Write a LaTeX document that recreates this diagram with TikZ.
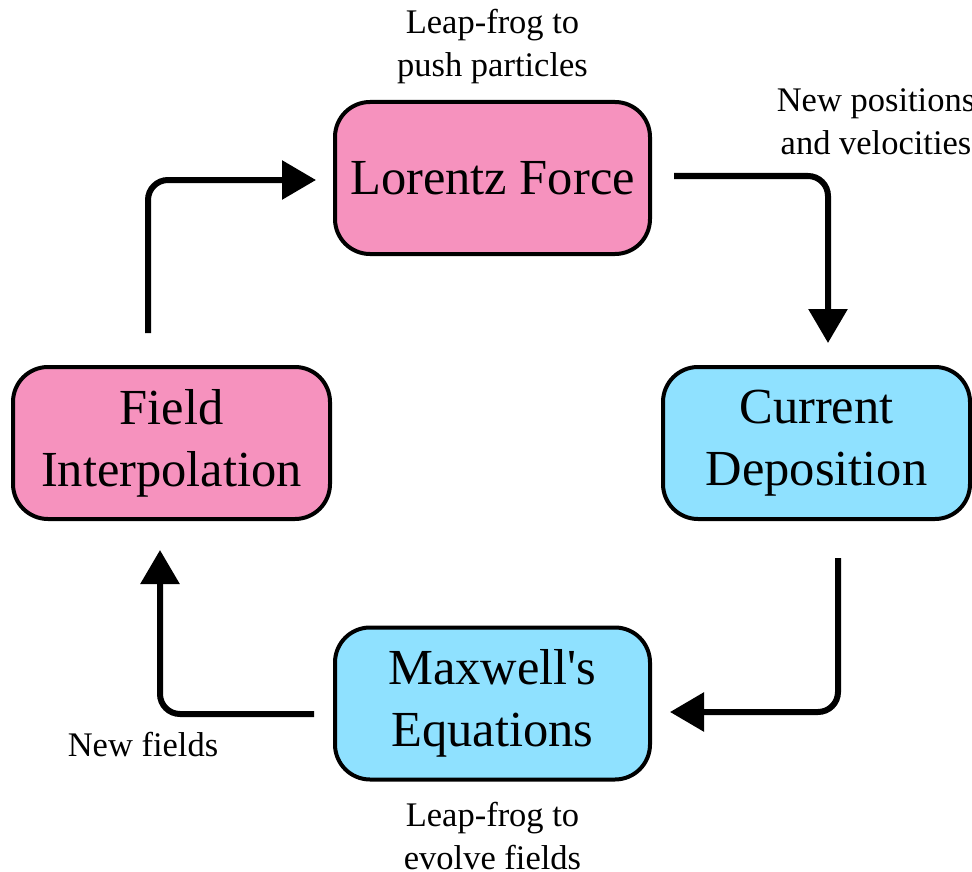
\documentclass[tikz,border=0pt]{standalone}
\usepackage{fontspec}
\setmainfont{Liberation Serif}
\usetikzlibrary{arrows.meta,positioning}
\definecolor{pushPink}{RGB}{246,146,190}
\definecolor{fieldBlue}{RGB}{143,225,255}
\tikzset{
  stage/.style={draw=black, line width=4pt, rounded corners=35pt, fill=pushPink,
    minimum width=315pt, minimum height=152pt, inner sep=0pt, align=center,
    font=\fontsize{50.5}{62}\selectfont},
  stageblue/.style={stage, fill=fieldBlue},
  note/.style={align=center, inner sep=0pt, font=\fontsize{34.5}{43}\selectfont},
  cycle/.style={-{Triangle[length=34pt,width=38pt]}, line width=6pt, draw=black,
    rounded corners=20pt}
}

\begin{document}
\begin{tikzpicture}[x=1pt,y=-1pt]
    \useasboundingbox (0,0) rectangle (972,872);
    \node[stage] (lf) at (492.5,178) {Lorentz Force};
    \node[stageblue, minimum width=307pt] (cd) at (816.5,443) {Current\\Deposition};
    \node[stageblue] (me) at (492.5,703.5) {Maxwell\textquotesingle s\\Equations};
    \node[stage, minimum width=317pt] (fi) at (171.5,443) {Field\\Interpolation};
    \draw[cycle, shorten <=22pt, shorten >=22pt] ([yshift=2pt]lf.east) -| ([xshift=11.5pt]cd.north);
    \draw[cycle, shorten <=37pt, shorten >=18pt] ([xshift=21.5pt]cd.south) |- ([yshift=-8.5pt]me.east);
    \draw[cycle, shorten <=19pt, shorten >=29pt] ([yshift=-10.5pt]me.west) -| ([xshift=-11.5pt]fi.south);
    \draw[cycle, shorten <=32pt, shorten >=17pt] ([xshift=-23.5pt]fi.north) |- ([yshift=-2pt]lf.west);
    \node[note] (push) at (492.5,47) {Leap-frog to\\push particles};
    \node[note] (newpos) at (876,122) {New positions\\and velocities};
    \node[note] (evolve) at (492.5,836) {Leap-frog to\\evolve fields};
    \node[note] (newf) at (143,745) {New fields};
  \end{tikzpicture}
\end{document}
